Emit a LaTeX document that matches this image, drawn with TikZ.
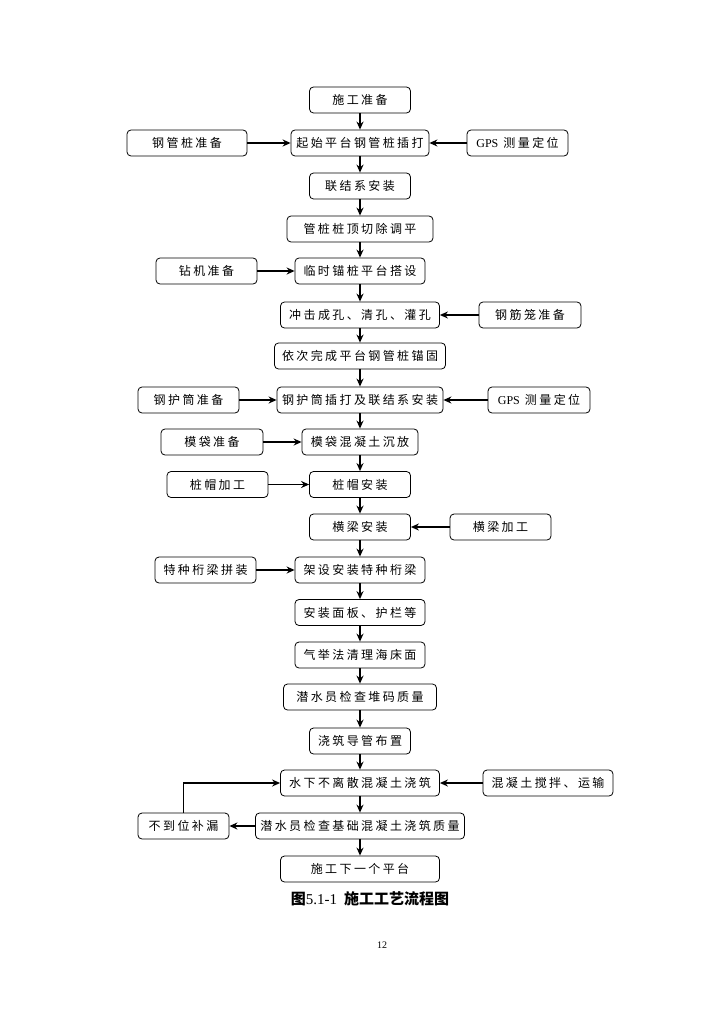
\documentclass[tikz,border=0pt]{standalone}
\usepackage{fontspec}
\setmainfont{Liberation Serif}
\newfontfamily\cjk[LetterSpace=20]{Noto Sans CJK SC}
\newfontfamily\cjkhei{Noto Sans CJK SC}
\usetikzlibrary{arrows.meta}
\tikzset{
  every picture/.style={line width=0.8pt},
  box/.style={draw, rounded corners=4pt, font={\cjk\fontsize{12}{14}\selectfont}, inner sep=0pt, minimum height=26pt, minimum width=#1},
  box/.default=101pt,
  arrow/.style={-{Stealth[length=8pt, width=7pt]}, line width=1.3pt},
  title/.style={font={\cjkhei\bfseries\fontsize{15}{18}\selectfont}},
  note/.style={font={\rmfamily\fontsize{10}{12}\selectfont}},
}

\begin{document}
\begin{tikzpicture}[x=1pt, y=-1pt]
  \useasboundingbox (0,0) rectangle (724,1024);
  % main process column
  \foreach \name/\y/\w/\txt in {m1/100/101/施工准备, m2/143/138/起始平台钢管桩插打,
                                m3/186/101/联结系安装, m4/229/146/管桩桩顶切除调平,
                                m5/271/130/临时锚桩平台搭设, m6/315/159/冲击成孔、清孔、灌孔,
                                m7/356/171/依次完成平台钢管桩锚固, m8/400/166/钢护筒插打及联结系安装,
                                m9/442/116/模袋混凝土沉放, m10/484.5/101/桩帽安装,
                                m11/527/101/横梁安装, m12/570/130/架设安装特种桁梁,
                                m13/612.5/130/安装面板、护栏等, m14/655/130/气举法清理海床面,
                                m15/697/153/潜水员检查堆码质量, m16/741/101/浇筑导管布置,
                                m17/783/159/水下不离散混凝土浇筑, m18/826/209/潜水员检查基础混凝土浇筑质量,
                                m19/869/159/施工下一个平台} {
    \node[box=\w pt] (\name) at (360,\y) {\txt};
  }
  \foreach \i [count=\j from 2] in {1,...,18} {
    \draw[arrow] (m\i) -- (m\j);
  }
  % side preparations
  \foreach \name/\x/\y/\w/\txt in {a2/187/143/120/钢管桩准备, b2/517.5/143/101/{{\rmfamily GPS} 测量定位},
                                   a5/206.5/271/101/钻机准备, b6/530/315/102/钢筋笼准备,
                                   a8/188.5/400/101/钢护筒准备, b8/539/400/102/{{\rmfamily GPS} 测量定位},
                                   a9/212/442/102/模袋准备, a10/217.5/484.5/101/桩帽加工,
                                   b11/500.5/527/101/横梁加工, a12/205.5/570/101/特种桁梁拼装,
                                   b17/548/783/130/混凝土搅拌、运输, a18/183.5/826/91/不到位补漏} {
    \node[box=\w pt] (\name) at (\x,\y) {\txt};
  }
  \foreach \s/\m in {a2/m2, b2/m2, a5/m5, b6/m6, a8/m8, b8/m8, a9/m9, a10/m10, b11/m11, a12/m12, b17/m17} {
    \draw[arrow] (\s) -- (\m);
  }
  % repair loop
  \draw[arrow] (m18) -- (a18);
  \draw[arrow] (a18) |- (m17);
  \node[title] (caption) at (370,899) {图{\rmfamily\mdseries 5.1-1}\ \ 施工工艺流程图};
  \node[note] (page) at (382,945) {12};
\end{tikzpicture}
\end{document}
